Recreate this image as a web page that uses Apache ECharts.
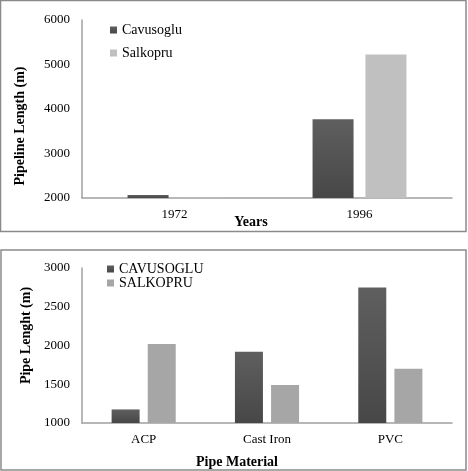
<!DOCTYPE html>
<html><head><meta charset="utf-8">
<script src="https://cdn.jsdelivr.net/npm/echarts@6/dist/echarts.min.js"></script>
<style>html,body{margin:0;padding:0;background:#fff}#c{width:468px;height:471px}</style>
</head><body><div id="c"></div>
<script>
const years = ['1972', '1996'];
const cavusogluByYear = [2070, 3770];
const salkopruByYear = [2012, 5225];
const yearTicks = [2000, 6000, 1000];

const materials = ['ACP', 'Cast Iron', 'PVC'];
const cavusogluByMaterial = [1175, 1920, 2750];
const salkopruByMaterial = [2020, 1490, 1700];
const materialTicks = [1000, 3000, 500];

const FONT = 'Liberation Serif';
const dark = new echarts.graphic.LinearGradient(0, 0, 0, 1, [
  {offset: 0, color: '#5f5f5f'}, {offset: 1, color: '#474747'}]);
const lightTop = '#c0c0c0';
const lightBot = '#a6a6a6';

const chart = echarts.init(document.getElementById('c'), null, {renderer: 'canvas'});
const axisLine = {show: true, lineStyle: {color: '#a0a0a0', width: 1.5}};
const lbl = {color: '#000', fontFamily: FONT, fontSize: 13};
const nameStyle = {color: '#000', fontFamily: FONT, fontSize: 14, fontWeight: 'bold'};
const plain = v => String(v);
const legText = lh => ({color: '#000', fontFamily: FONT, fontSize: 14, lineHeight: lh,
  rich: {s: {fontFamily: FONT, fontSize: 14, color: '#000', lineHeight: lh}}});

chart.setOption({
  animation: false,
  textStyle: {fontFamily: FONT},
  graphic: [
    {type: 'rect', shape: {x: 0.5, y: 0.5, width: 465.5, height: 231}, style: {fill: 'none', stroke: '#8a8a8a', lineWidth: 1.5}, silent: true},
    {type: 'rect', shape: {x: 1, y: 250, width: 465, height: 220}, style: {fill: 'none', stroke: '#8a8a8a', lineWidth: 1.5}, silent: true}
  ],
  legend: [
    {data: ['Cavusoglu', 'Salkopru'], orient: 'vertical', left: 110, top: 22, padding: 0, icon: 'rect', itemWidth: 7, itemHeight: 7, itemGap: 7,
     formatter: '{s|{name}}', textStyle: legText(16)},
    {data: ['CAVUSOGLU', 'SALKOPRU'], orient: 'vertical', left: 107, top: 262, padding: 0, icon: 'rect', itemWidth: 7, itemHeight: 7, itemGap: 0,
     formatter: '{s|{name}}', textStyle: legText(14)}
  ],
  grid: [
    {left: 82, right: 16, top: 20, height: 178},
    {left: 82, right: 16, top: 268, height: 155}
  ],
  xAxis: [
    {gridIndex: 0, type: 'category', data: years, axisLine: axisLine, axisTick: {show: false},
     axisLabel: Object.assign({margin: 10}, lbl),
     name: 'Years', nameLocation: 'middle', nameGap: 17, nameMoveOverlap: false,
     nameTextStyle: Object.assign({padding: [0, 32, 0, 0]}, nameStyle)},
    {gridIndex: 1, type: 'category', data: materials, axisLine: axisLine, axisTick: {show: false},
     axisLabel: Object.assign({margin: 10}, lbl),
     name: 'Pipe Material', nameLocation: 'middle', nameGap: 32, nameMoveOverlap: false,
     nameTextStyle: Object.assign({padding: [0, 60, 0, 0]}, nameStyle)}
  ],
  yAxis: [
    {gridIndex: 0, type: 'value', min: yearTicks[0], max: yearTicks[1], interval: yearTicks[2],
     axisLine: axisLine, axisTick: {show: false}, splitLine: {show: false},
     axisLabel: Object.assign({margin: 12, formatter: plain}, lbl),
     name: 'Pipeline Length (m)', nameLocation: 'middle', nameGap: 55,
     nameTextStyle: Object.assign({padding: [0, 34, 0, 0]}, nameStyle)},
    {gridIndex: 1, type: 'value', min: materialTicks[0], max: materialTicks[1], interval: materialTicks[2],
     axisLine: axisLine, axisTick: {show: false}, splitLine: {show: false},
     axisLabel: Object.assign({margin: 12, formatter: plain}, lbl),
     name: 'Pipe Lenght (m)', nameLocation: 'middle', nameGap: 43,
     nameTextStyle: Object.assign({padding: [0, 0, 0, 20]}, nameStyle)}
  ],
  series: [
    {name: 'Cavusoglu', type: 'bar', xAxisIndex: 0, yAxisIndex: 0, data: cavusogluByYear, barWidth: 41, barGap: '29%', itemStyle: {color: dark}},
    {name: 'Salkopru', type: 'bar', xAxisIndex: 0, yAxisIndex: 0, data: salkopruByYear, barWidth: 41, barGap: '29%', itemStyle: {color: lightTop}},
    {name: 'CAVUSOGLU', type: 'bar', xAxisIndex: 1, yAxisIndex: 1, data: cavusogluByMaterial, barWidth: 28, barGap: '29%', itemStyle: {color: dark}},
    {name: 'SALKOPRU', type: 'bar', xAxisIndex: 1, yAxisIndex: 1, data: salkopruByMaterial, barWidth: 28, barGap: '29%', itemStyle: {color: lightBot}}
  ]
});
</script></body></html>
